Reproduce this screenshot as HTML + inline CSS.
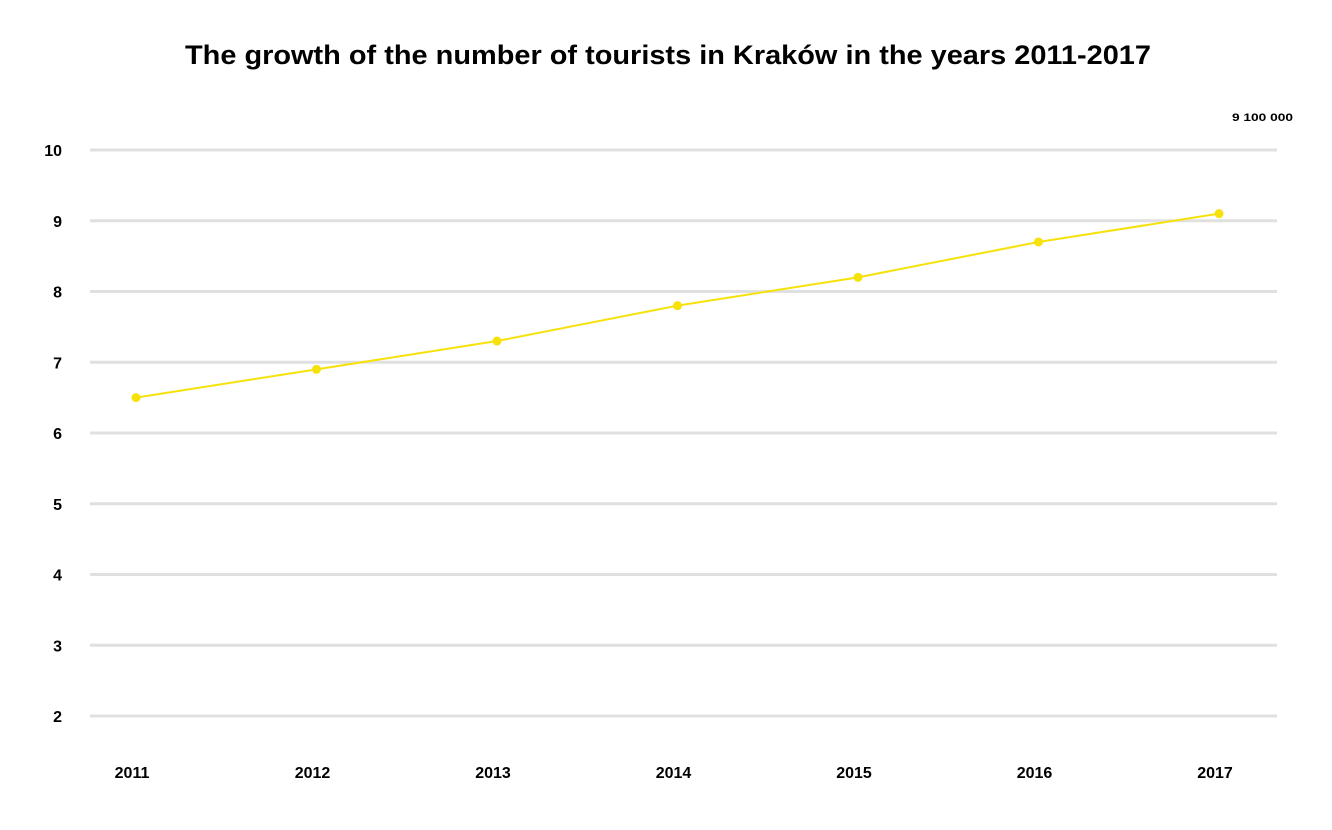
<!DOCTYPE html>
<html><head><meta charset="utf-8"><style>
html,body{margin:0;padding:0;background:#fff;}
body{width:1332px;height:825px;overflow:hidden;font-family:"Liberation Sans",sans-serif;}
</style></head><body>
<svg id="chart" width="1332" height="825" xmlns="http://www.w3.org/2000/svg">
<text x="185" y="64" textLength="966" lengthAdjust="spacingAndGlyphs" font-family="Liberation Sans, sans-serif" font-weight="bold" font-size="27" fill="#000">The growth of the number of tourists in Kraków in the years 2011-2017</text>
<text x="1232" y="121" textLength="61" lengthAdjust="spacingAndGlyphs" font-family="Liberation Sans, sans-serif" font-weight="bold" font-size="11" fill="#000">9 100 000</text>
<g id="grid"></g><g id="ylabels"></g><g id="xlabels"></g><g id="series"></g>
</svg>
<script>
const years = ['2011','2012','2013','2014','2015','2016','2017'];
const tourists = [6.5, 6.9, 7.3, 7.8, 8.2, 8.7, 9.1];
const yTicks = [2,3,4,5,6,7,8,9,10];
const NS='http://www.w3.org/2000/svg';
function yScale(v){return 150 + (10 - v) * 70.75;}
function xScale(i){return 136 + i * 180.5;}
function mk(tag, attrs, parent){const e=document.createElementNS(NS,tag);for(const k in attrs)e.setAttribute(k,attrs[k]);parent.appendChild(e);return e;}
const grid=document.getElementById('grid'), yl=document.getElementById('ylabels'), xl=document.getElementById('xlabels'), s=document.getElementById('series');
yTicks.forEach(t=>{
  const l=mk('line',{x1:90,x2:1277,y1:yScale(t),y2:yScale(t),stroke:'#e0e0e0','stroke-width':3},grid);
  
  
  const tx=mk('text',{x:62,y:yScale(t)+6,'text-anchor':'end','font-weight':'bold','font-size':16,'font-family':'Liberation Sans, sans-serif',fill:'#000'},yl);
  tx.textContent=t;
  
  
});
years.forEach((y,i)=>{
  const tx=mk('text',{x:xScale(i)-4,y:778,'text-anchor':'middle','font-weight':'bold','font-size':16,'font-family':'Liberation Sans, sans-serif',fill:'#000'},xl);
  tx.textContent=y;
  
  
});
const pts=tourists.map((v,i)=>xScale(i)+','+yScale(v)).join(' ');
const pl=mk('polyline',{points:pts,fill:'none',stroke:'#f7e10a','stroke-width':2},s);


tourists.forEach((v,i)=>{
  const c=mk('circle',{cx:xScale(i),cy:yScale(v),r:4.5,fill:'#f7e10a'},s);
  
  
});
</script>
</body></html>
